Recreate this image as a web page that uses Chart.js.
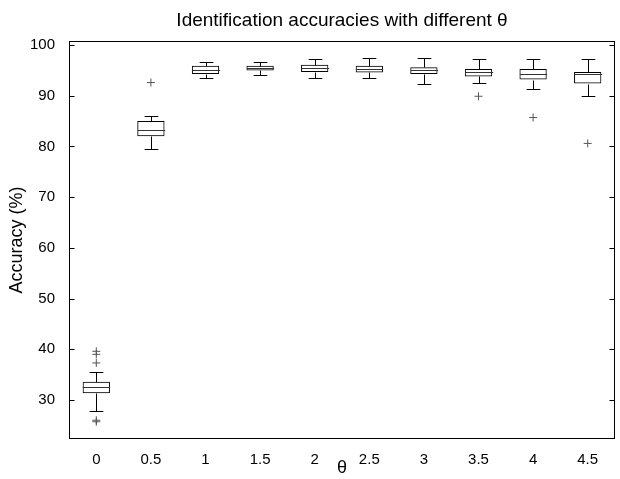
<!DOCTYPE html>
<html>
<head>
<meta charset="utf-8">
<script src="https://cdn.jsdelivr.net/npm/chart.js@4.4.0/dist/chart.umd.min.js"></script>
<style>
  body { margin: 0; background: #fff; }
</style>
</head>
<body>
<canvas id="boxCanvas" width="620" height="479"></canvas>
<script>
// values
const thetaLabels = ['0', '0.5', '1', '1.5', '2', '2.5', '3', '3.5', '4', '4.5'];
const whiskerLow  = [27.8, 79.5, 93.6, 94.1, 93.5, 93.6, 92.4, 92.6, 91.4, 90.0];
const q1          = [31.3, 82.0, 94.3, 95.0, 94.7, 94.6, 94.3, 93.8, 93.2, 92.4];
const median      = [32.6, 83.2, 95.0, 95.5, 95.5, 95.2, 95.0, 94.7, 94.3, 94.3];
const q3          = [33.6, 85.0, 95.9, 95.9, 96.1, 95.9, 95.6, 95.3, 95.3, 94.7];
const whiskerHigh = [35.6, 86.1, 96.7, 96.7, 97.3, 97.4, 97.4, 97.3, 97.2, 97.2];
const outliers    = [[39.6, 39.0, 37.3, 26.0, 25.7], [92.6], [], [], [], [], [], [89.9], [85.7], [80.6]];
const yTicks = [30, 40, 50, 60, 70, 80, 90, 100];
const chartTitle = 'Identification accuracies with different θ';

const fontFamily = '"Liberation Sans", Arial, Helvetica, sans-serif';

const outlierPoints = [];
outliers.forEach((list, i) => {
    list.forEach(v => outlierPoints.push({ x: thetaLabels[i], y: v }));
});

function line(ctx, x1, y1, x2, y2) {
    ctx.beginPath();
    ctx.moveTo(x1, y1);
    ctx.lineTo(x2, y2);
    ctx.stroke();
}

// whiskers, caps, medians, frame, inward ticks and the title
const boxParts = {
    id: 'boxParts',
    afterDatasetsDraw(chart) {
        const { ctx, chartArea: a, scales: { y } } = chart;
        const meta = chart.getDatasetMeta(0);
        const px = v => Math.round(y.getPixelForValue(v)) + 0.5;
        ctx.save();
        ctx.strokeStyle = '#000';
        ctx.lineWidth = 1;
        meta.data.forEach((bar, i) => {
            const cx = Math.round(bar.x) + 0.5;
            const half = bar.width / 2;
            const cap = half / 2;
            const yLo = px(whiskerLow[i]), yQ1 = px(q1[i]);
            const yQ3 = px(q3[i]), yHi = px(whiskerHigh[i]);
            const yMed = px(median[i]);
            line(ctx, cx, yQ3, cx, yHi);
            line(ctx, cx - cap, yHi, cx + cap, yHi);
            line(ctx, cx, yQ1, cx, yLo);
            line(ctx, cx - cap, yLo, cx + cap, yLo);
            ctx.strokeStyle = '#333';
            line(ctx, cx - half, yMed, cx + half, yMed);
            ctx.strokeStyle = '#000';
        });
        const l = Math.round(a.left) + 0.5, r = Math.round(a.right) - 0.5;
        const t = Math.round(a.top) + 0.5, b = Math.round(a.bottom) - 0.5;
        ctx.strokeRect(l, t, r - l, b - t);
        yTicks.forEach(v => {
            const py = px(v);
            line(ctx, l, py, l + 5, py);
            line(ctx, r - 5, py, r, py);
        });

        // title centred over the axes, like the original
        ctx.fillStyle = '#000';
        ctx.font = '19px ' + fontFamily;
        ctx.textAlign = 'center';
        ctx.textBaseline = 'middle';
        ctx.fillText(chartTitle, (a.left + a.right) / 2, 21);
        ctx.restore();
    }
};

new Chart(document.getElementById('boxCanvas').getContext('2d'), {
    data: {
        labels: thetaLabels,
        datasets: [
            {
                type: 'bar',
                data: thetaLabels.map((_, i) => [q1[i], q3[i]]),
                backgroundColor: 'rgba(255,255,255,0)',
                borderColor: '#000',
                borderWidth: 1,
                borderSkipped: false,
                barPercentage: 0.5,
                categoryPercentage: 1
            },
            {
                type: 'line',
                data: outlierPoints,
                showLine: false,
                pointStyle: 'cross',
                pointRadius: 4,
                pointBorderWidth: 1,
                pointBorderColor: '#555',
                pointBackgroundColor: '#555'
            }
        ]
    },
    options: {
        responsive: false,
        animation: false,
        layout: { padding: { left: 0, right: 3, top: 41, bottom: 0 } },
        plugins: {
            legend: { display: false },
            tooltip: { enabled: false },
            title: { display: false }
        },
        scales: {
            x: {
                type: 'category',
                grid: { display: false },
                border: { display: false },
                ticks: { color: '#000', font: { family: fontFamily, size: 15 }, padding: 4 },
                title: {
                    display: true,
                    text: 'θ',
                    color: '#000',
                    font: { family: fontFamily, size: 18 },
                    padding: 0
                },
                afterFit(scale) { scale.height = 40; }
            },
            y: {
                min: 22.3,
                max: 100.8,
                grid: { display: false },
                border: { display: false },
                afterBuildTicks(scale) { scale.ticks = yTicks.map(v => ({ value: v })); },
                ticks: { color: '#000', font: { family: fontFamily, size: 15 }, padding: 6 },
                title: {
                    display: true,
                    text: 'Accuracy (%)',
                    color: '#000',
                    font: { family: fontFamily, size: 18 },
                    padding: { top: 6, bottom: 0 }
                },
                afterFit(scale) { scale.width = 69; }
            }
        }
    },
    plugins: [boxParts]
});
</script>
</body>
</html>
